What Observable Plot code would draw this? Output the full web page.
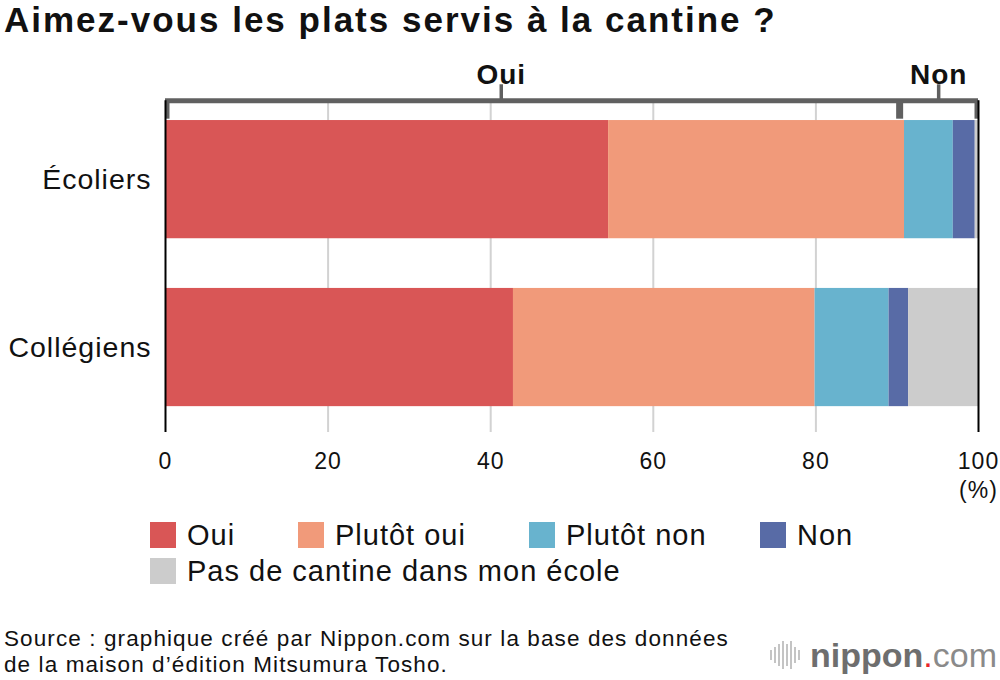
<!DOCTYPE html>
<html>
<head>
<meta charset="utf-8">
<script src="https://cdn.jsdelivr.net/npm/d3@7"></script>
<script src="https://cdn.jsdelivr.net/npm/@observablehq/plot@0.6"></script>
<style>
  html, body { margin: 0; padding: 0; background: #fff; }
  body { width: 1000px; height: 680px; position: relative; overflow: hidden; font-family: "Liberation Sans", Arial, sans-serif; color: #111; }
  #title { position: absolute; left: 4px; top: 0px; font-size: 35px; font-weight: bold; line-height: 1.117; letter-spacing: 2px; white-space: nowrap; }
  #chart { position: absolute; left: 0; top: 50px; }
  .legend-item { position: absolute; display: flex; align-items: center; font-size: 29px; line-height: 30px; letter-spacing: 1px; white-space: nowrap; }
  .sw { width: 26px; height: 26px; margin-right: 11px; }
  #source { position: absolute; left: 4px; top: 626px; font-size: 22.5px; line-height: 26px; letter-spacing: 1.1px; white-space: nowrap; }
  #logo { position: absolute; left: 770px; top: 633px; height: 44px; display: flex; align-items: center; white-space: nowrap; }
  #logo .bars { display: flex; align-items: center; gap: 2px; margin-right: 10px; height: 30px; }
  #logo .bars span { display: block; width: 2px; background: #c4c4c4; }
  #logo .t1 { font-size: 34px; font-weight: bold; color: #6e6e6e; }
  #logo .dot { font-size: 34px; color: #e8262a; }
  #logo .t2 { font-size: 34px; color: #8a8a8a; }
</style>
</head>
<body>
<div id="title">Aimez-vous les plats servis à la cantine ?</div>
<div id="chart"></div>
<div id="legend"></div>
<div id="source">Source : graphique créé par Nippon.com sur la base des données<br>de la maison d’édition Mitsumura Tosho.</div>
<div id="logo"><div class="bars"></div><span class="t1">nippon</span><span class="dot">.</span><span class="t2">com</span></div>
<script>
// ---- data ----
const categories = ["Écoliers", "Collégiens"];
const series = ["Oui", "Plutôt oui", "Plutôt non", "Non", "Pas de cantine dans mon école"];
const colors = ["#d95656", "#f19a7a", "#68b3ce", "#586ba6", "#cccccc"];
const ecoliers = [54.5, 36.4, 6.0, 2.7, 0.4];
const collegiens = [42.8, 37.1, 9.1, 2.4, 8.6];
const xTicks = [0, 20, 40, 60, 80, 100];
const bracketLabels = ["Oui", "Non"];
const bracketLabelAt = [41.3, 95.1];
const bracketSplit = 90.3;

// ---- build table ----
const values = [ecoliers, collegiens];
const rows = [];
values.forEach((vals, i) => {
  let acc = 0;
  vals.forEach((v, j) => {
    rows.push({category: categories[i], series: series[j], x1: acc, x2: acc + v, y1: i - 0.352, y2: i + 0.352});
    acc += v;
  });
});

const yBracket = -0.47, yBracketEnd = -0.36, yLabelTick = -0.565, yBottom = 1.506;
const font = '"Liberation Sans", Arial, sans-serif';

const chart = Plot.plot({
  width: 1000,
  height: 460,
  marginLeft: 165,
  marginRight: 22,
  marginTop: 20,
  marginBottom: 78,
  x: {domain: [0, 100]},
  y: {domain: [-0.65, yBottom], reverse: true},
  color: {domain: series, range: colors},
  style: {fontFamily: font, background: "transparent", color: "#111", letterSpacing: "1px"},
  marks: [
    Plot.ruleX([20, 40, 60, 80], {y1: yBracket, y2: yBottom, stroke: "#d2d2d2", strokeWidth: 2}),
    Plot.rectX(rows, {x1: "x1", x2: "x2", y1: "y1", y2: "y2", fill: "series"}),
    // bracket
    Plot.ruleY([yBracket], {x1: 0, x2: 100, stroke: "#606060", strokeWidth: 5}),
    Plot.ruleX([bracketSplit], {y1: yBracket, y2: yBracketEnd, stroke: "#606060", strokeWidth: 7}),
    Plot.ruleX([0], {y1: yBracket, y2: yBracketEnd, stroke: "#606060", strokeWidth: 4, dx: 2}),
    Plot.ruleX([100], {y1: yBracket, y2: yBracketEnd, stroke: "#606060", strokeWidth: 4, dx: -2}),
    Plot.ruleX(bracketLabelAt, {y1: yLabelTick, y2: yBracket, stroke: "#606060", strokeWidth: 3.5}),
    Plot.text(bracketLabels, {x: (d, i) => bracketLabelAt[i], y: yLabelTick, text: d => d, lineAnchor: "bottom", dy: -1, fontSize: 28, fontWeight: "bold", fill: "#111"}),
    // frame edges
    Plot.ruleX([0, 100], {y1: yBracket, y2: yBottom, stroke: "#000", strokeWidth: 2}),
    // axes
    Plot.axisX(xTicks, {tickSize: 0, tickPadding: 20, fontSize: 23, fill: "#111"}),
    Plot.axisY([0, 1], {tickFormat: i => categories[i], tickSize: 0, tickPadding: 14, fontSize: 28.5, fill: "#111"}),
    Plot.text(["(%)"], {x: 100, y: yBottom, text: d => d, dy: 58, fontSize: 23, fill: "#111"})
  ]
});
document.getElementById("chart").appendChild(chart);

// ---- legend ----
const legendPos = [[150, 520], [298, 520], [529, 520], [760, 520], [150, 556]];
const legend = document.getElementById("legend");
series.forEach((s, i) => {
  const d = document.createElement("div");
  d.className = "legend-item";
  d.style.left = legendPos[i][0] + "px";
  d.style.top = legendPos[i][1] + "px";
  d.innerHTML = `<div class="sw" style="background:${colors[i]}"></div><span>${s}</span>`;
  legend.appendChild(d);
});

// ---- logo bars ----
const barsEl = document.querySelector("#logo .bars");
[10, 16, 22, 28, 22, 28, 16, 10].forEach(h => {
  const s = document.createElement("span");
  s.style.height = h + "px";
  barsEl.appendChild(s);
});
</script>
</body>
</html>
